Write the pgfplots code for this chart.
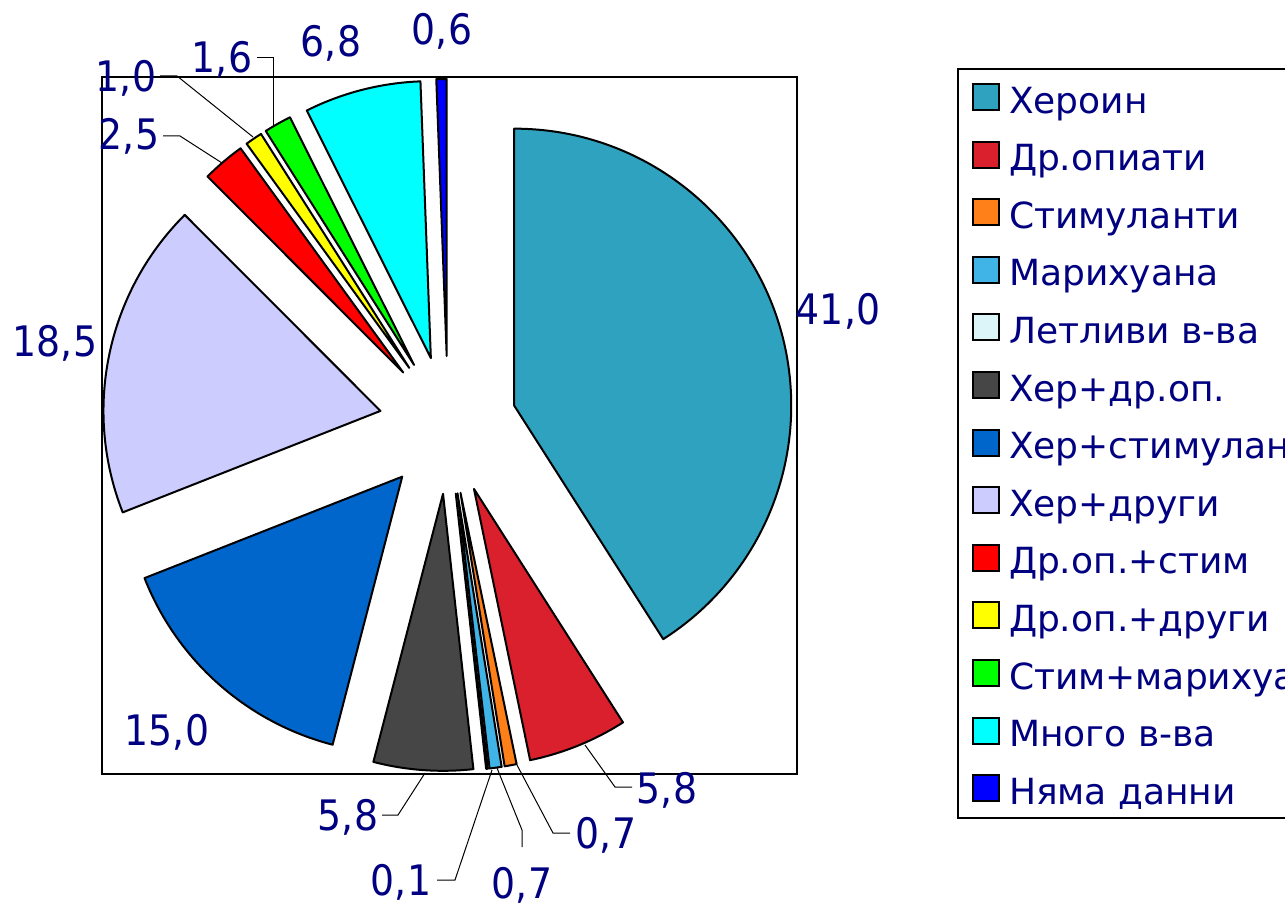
\documentclass[border=0pt]{standalone}
\usepackage{pgfplots}
\pgfplotsset{compat=1.18}
\usepackage{pgfplotstable}
\usepackage{fontspec}
\setmainfont{DejaVu Sans Condensed}
\newfontfamily\legendfont{DejaVu Sans}
\definecolor{cA}{RGB}{46,162,190}
\definecolor{cB}{RGB}{218,32,44}
\definecolor{cC}{RGB}{255,128,25}
\definecolor{cD}{RGB}{64,180,230}
\definecolor{cE}{RGB}{220,245,248}
\definecolor{cF}{RGB}{70,70,70}
\definecolor{cG}{RGB}{0,102,204}
\definecolor{cH}{RGB}{204,204,255}
\definecolor{cI}{RGB}{255,0,0}
\definecolor{cJ}{RGB}{255,255,0}
\definecolor{cK}{RGB}{0,255,0}
\definecolor{cL}{RGB}{0,255,255}
\definecolor{cM}{RGB}{0,0,255}
\definecolor{navy}{RGB}{0,0,128}

\pgfplotstableread{
val col
41.0 cA
5.8 cB
0.7 cC
0.7 cD
0.1 cE
5.8 cF
15.0 cG
18.5 cH
2.5 cI
1.0 cJ
1.6 cK
6.8 cL
0.6 cM
}\piedata

\begin{document}
\begin{tikzpicture}
\pgfplotstablegetrowsof{\piedata}
\pgfmathtruncatemacro\N{\pgfplotsretval-1}
\def\tot{0}
\pgfplotsforeachungrouped \i in {0,...,\N}{%
  \pgfplotstablegetelem{\i}{val}\of\piedata
  \pgfmathsetmacro\tot{\tot+\pgfplotsretval}}
\begin{axis}[
  at={(0,0)}, anchor=south west, scale only axis,
  width=642.5pt, height=453pt,
  xmin=0, xmax=1285, ymin=0, ymax=906,
  hide axis, clip=false,
  legend image code/.code={\draw[#1, line width=1pt] (0pt,-6pt) rectangle (13pt,7pt);},
  legend cell align=left,
  legend style={at={(0.74475,0.92494)}, anchor=north west, draw=black,
    line width=1pt, fill=white, font=\legendfont\fontsize{18}{21}\selectfont,
    text=navy, inner xsep=7pt, inner ysep=6pt, row sep=11.8pt,
    nodes={inner sep=0pt, text height=16pt, text depth=1pt, anchor=west},
    /tikz/every odd column/.append style={column sep=4.5pt}},
]
\draw[line width=0.75pt] (axis cs:102,132) rectangle (axis cs:797,829);

\def\cum{0}
\pgfplotsforeachungrouped \i in {0,...,\N}{%
  \pgfplotstablegetelem{\i}{val}\of\piedata \let\val\pgfplotsretval
  \pgfplotstablegetelem{\i}{col}\of\piedata \let\col\pgfplotsretval
  \pgfmathsetmacro\sa{90-(\cum/\tot)*360}
  \pgfmathsetmacro\ea{90-((\cum+\val)/\tot)*360}
  \pgfmathsetmacro\ma{(\sa+\ea)/2}
  \pgfmathsetmacro\ax{448+69*cos(\ma)}
  \pgfmathsetmacro\ay{481+69*sin(\ma)}
  \edef\temp{\noexpand\filldraw[fill=\col, draw=black, line width=1pt, line join=round] (axis cs:\ax,\ay) -- ++(\sa:138.5pt) arc[start angle=\sa, end angle=\ea, radius=138.5pt] -- cycle;}%
  \temp
  \pgfmathsetmacro\cum{\cum+\val}%
}

% leader lines
\draw[line width=0.5pt] (axis cs:585,161) -- (axis cs:615,119) -- (axis cs:632,119);
\draw[line width=0.5pt] (axis cs:517,141) -- (axis cs:553,73) -- (axis cs:570,73);
\draw[line width=0.5pt] (axis cs:497,138) -- (axis cs:522,76) -- (axis cs:522,59);
\draw[line width=0.5pt] (axis cs:492,136) -- (axis cs:455,26) -- (axis cs:437,26);
\draw[line width=0.5pt] (axis cs:425,133) -- (axis cs:398,91) -- (axis cs:382,91);
\draw[line width=0.5pt] (axis cs:222,743) -- (axis cs:180,770) -- (axis cs:163,770);
\draw[line width=0.5pt] (axis cs:253,769) -- (axis cs:177,830) -- (axis cs:160,830);
\draw[line width=0.5pt] (axis cs:273,780) -- (axis cs:273,848) -- (axis cs:257,848);

% data labels
\begin{scope}[every node/.style={text=navy, font=\fontsize{21}{25}\selectfont, anchor=base, inner sep=0pt}]
\node at (axis cs:838,581) {41,0};
\node at (axis cs:55,549) {18,5};
\node at (axis cs:167,161) {15,0};
\node at (axis cs:331,849) {6,8};
\node at (axis cs:442,861) {0,6};
\node at (axis cs:667,103) {5,8};
\node at (axis cs:606,58) {0,7};
\node at (axis cs:522,8) {0,7};
\node at (axis cs:401,11) {0,1};
\node at (axis cs:348,76) {5,8};
\node at (axis cs:129,756) {2,5};
\node at (axis cs:126,814) {1,0};
\node at (axis cs:222,833) {1,6};
\end{scope}

\addlegendimage{fill=cA, draw=black}\addlegendentry{Хероин}
\addlegendimage{fill=cB, draw=black}\addlegendentry{Др.опиати}
\addlegendimage{fill=cC, draw=black}\addlegendentry{Стимуланти}
\addlegendimage{fill=cD, draw=black}\addlegendentry{Марихуана}
\addlegendimage{fill=cE, draw=black}\addlegendentry{Летливи в-ва}
\addlegendimage{fill=cF, draw=black}\addlegendentry{Хер+др.оп.}
\addlegendimage{fill=cG, draw=black}\addlegendentry{Хер+стимуланти}
\addlegendimage{fill=cH, draw=black}\addlegendentry{Хер+други}
\addlegendimage{fill=cI, draw=black}\addlegendentry{Др.оп.+стим}
\addlegendimage{fill=cJ, draw=black}\addlegendentry{Др.оп.+други}
\addlegendimage{fill=cK, draw=black}\addlegendentry{Стим+марихуана}
\addlegendimage{fill=cL, draw=black}\addlegendentry{Много в-ва}
\addlegendimage{fill=cM, draw=black}\addlegendentry{Няма данни}
\end{axis}
\pgfresetboundingbox
\useasboundingbox (0,0) rectangle (642.5pt,453pt);
\end{tikzpicture}
\end{document}
